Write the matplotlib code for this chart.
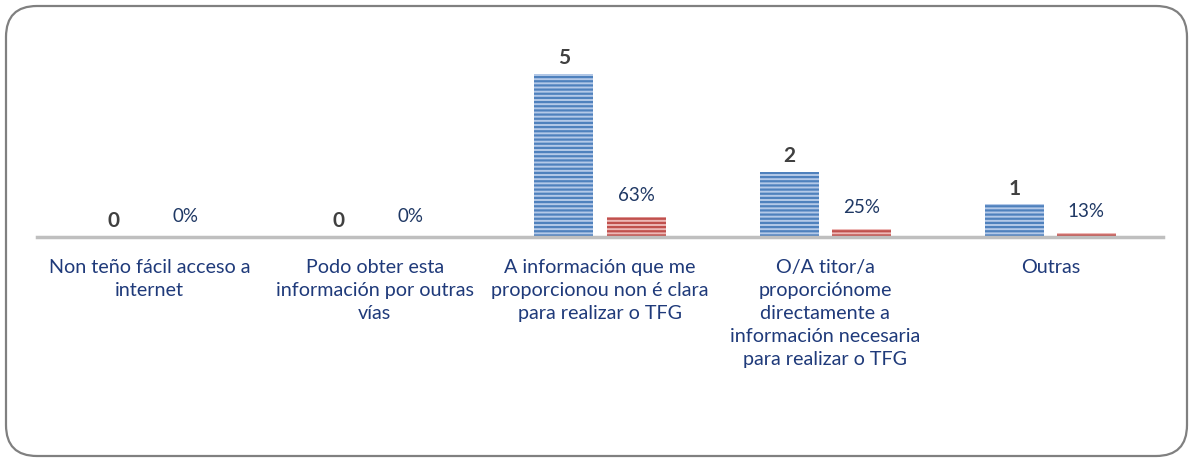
import matplotlib
matplotlib.use("Agg")
import matplotlib.pyplot as plt
from matplotlib.patches import FancyBboxPatch
import numpy as np

categories = [
    "Non teño fácil acceso a\ninternet",
    "Podo obter esta\ninformación por outras\nvías",
    "A información que me\nproporcionou non é clara\npara realizar o TFG",
    "O/A titor/a\nproporciónome\ndirectamente a\ninformación necesaria\npara realizar o TFG",
    "Outras",
]
counts = [0, 0, 5, 2, 1]
shares = [0.0, 0.0, 0.625, 0.25, 0.125]
share_labels = ["0%", "0%", "63%", "25%", "13%"]

plt.rcParams['font.family'] = ['Lato', 'DejaVu Sans']
plt.rcParams['hatch.linewidth'] = 1.6

fig = plt.figure(figsize=(11.92, 4.62), dpi=100)
border = FancyBboxPatch((6/1192, 6/462), (1181)/1192, (450)/462,
                        boxstyle="round,pad=0,rounding_size=0.026",
                        transform=fig.transFigure, fill=False,
                        edgecolor="#808080", linewidth=1.6,
                        mutation_aspect=1192/462)
fig.patches.append(border)

ax = fig.add_axes([37/1192, (462-237)/462, (1163-37)/1192, (237-40)/462])
x = np.arange(len(categories))
w = 0.262
off = 0.16
ax.bar(x - off, counts, width=w, facecolor="#B4C9E8", edgecolor="#4F81BD",
       hatch="----", linewidth=0)
ax.bar(x + off, shares, width=w, facecolor="#EDB8B6", edgecolor="#C0504D",
       hatch="----", linewidth=0)

for xi, c in zip(x, counts):
    ax.annotate(str(c), (xi - off, c), xytext=(0, 4), textcoords="offset points",
                ha="center", va="bottom", fontsize=15, fontweight="bold",
                color="#404040")
for xi, s, lab in zip(x, shares, share_labels):
    ax.annotate(lab, (xi + off, s), xytext=(0, 9), textcoords="offset points",
                ha="center", va="bottom", fontsize=13.5, color="#1F3864")

ax.set_xlim(-0.5, len(categories) - 0.5)
ax.set_ylim(0, 6.04)
ax.set_yticks([])
ax.set_xticks(x)
ax.set_xticklabels(categories, fontsize=14.2, color="#1F3A7A", linespacing=1.43)
ax.tick_params(axis='x', length=0, pad=16)
for sp in ["top", "right", "left"]:
    ax.spines[sp].set_visible(False)
ax.spines["bottom"].set_color("#BFBFBF")
ax.spines["bottom"].set_linewidth(2.5)
ax.patch.set_alpha(0)

fig.savefig("out.png", dpi=100)
